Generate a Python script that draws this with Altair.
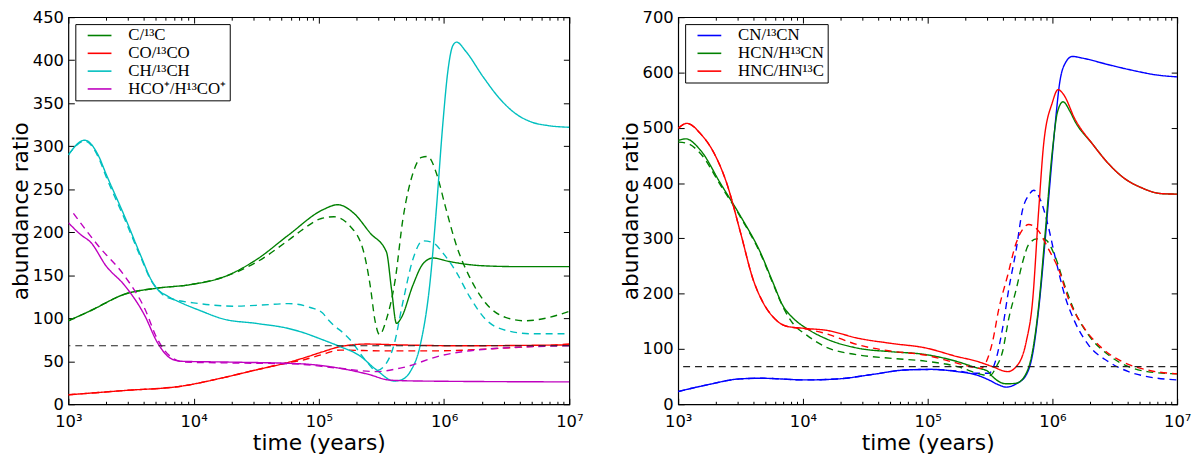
import altair as alt
import numpy as np
import pandas as pd

# x values are log10(time / years)
# ---- left panel ----
C_LOGT = [3.00, 3.18, 3.45, 3.71, 3.97, 4.24, 4.50, 4.76, 5.03, 5.15, 5.28, 5.41, 5.54,
          5.58, 5.62, 5.66, 5.75, 5.83, 5.91, 6.04, 6.31, 6.60, 7.00]
C_VAL = [97, 109, 128, 135, 139, 148, 168, 197, 226, 232, 222, 199, 177,
         134, 94, 101, 138, 163, 170, 166, 161, 160, 160]
C_D_LOGT = [3.00, 3.18, 3.45, 3.71, 3.97, 4.24, 4.50, 4.76, 4.86, 5.02, 5.12, 5.25, 5.36,
            5.41, 5.45, 5.485, 5.54, 5.61, 5.67, 5.75, 5.82, 5.87, 5.94, 6.01, 6.10,
            6.20, 6.33, 6.49, 6.65, 6.81, 7.00]
C_D_VAL = [97, 109, 128, 135, 139, 148, 165, 191, 202, 216, 218, 207, 176,
           138, 96, 81, 99, 145, 214, 268, 287, 288, 268, 230, 184,
           149, 118, 101, 97, 100, 108]

CO_LOGT = [3.00, 3.45, 3.90, 4.24, 4.50, 4.74, 4.86, 5.03, 5.17, 5.38, 5.65, 6.10, 7.00]
CO_VAL = [11, 16, 21, 31, 40, 48, 53, 61, 67, 70, 69, 68, 69]
CO_D_LOGT = [3.00, 3.45, 3.90, 4.24, 4.50, 4.74, 4.86, 5.03, 5.17, 5.52, 5.91, 6.44, 7.00]
CO_D_VAL = [11, 16, 21, 31, 40, 48, 51, 58, 63, 62, 62, 65, 70]

CH_LOGT = [3.00, 3.13, 3.24, 3.30, 3.45, 3.58, 3.66, 3.71, 3.79, 3.90, 4.05, 4.24, 4.50,
           4.76, 4.86, 5.03, 5.17, 5.32, 5.46, 5.60, 5.65, 5.73, 5.81, 5.89, 5.94, 5.99,
           6.03, 6.07, 6.10, 6.175, 6.31, 6.44, 6.57, 6.70, 6.83, 7.00]
CH_VAL = [290, 307, 289, 268, 218, 172, 145, 134, 126, 118, 109, 99, 94,
          88, 84, 75, 67, 57, 40, 27, 28, 38, 69, 145, 230, 326,
          387, 417, 421, 410, 381, 356, 338, 328, 324, 322]
CH_D_LOGT = [3.00, 3.13, 3.24, 3.30, 3.45, 3.58, 3.66, 3.71, 3.79, 4.05, 4.32, 4.50, 4.76,
             4.92, 5.03, 5.07, 5.25, 5.38, 5.46, 5.52, 5.60, 5.67, 5.75, 5.83, 5.91, 5.99,
             6.10, 6.20, 6.33, 6.49, 6.70, 7.00]
CH_D_VAL = [290, 306, 287, 265, 215, 170, 144, 134, 124, 117, 114, 115, 117,
            113, 106, 99, 75, 50, 39, 44, 69, 118, 168, 190, 188, 176,
            153, 126, 99, 86, 82, 82]

HCO_LOGT = [3.00, 3.10, 3.18, 3.30, 3.45, 3.61, 3.71, 3.82, 3.90, 4.30, 4.86, 5.20, 5.39,
            5.57, 5.81, 7.00]
HCO_VAL = [211, 197, 188, 161, 138, 103, 72, 53, 50, 49, 47, 41, 35, 28, 27, 26]
HCO_D_LOGT = [3.04, 3.24, 3.45, 3.61, 3.71, 3.82, 3.93, 4.30, 4.79, 5.15, 5.46, 5.65, 5.99,
              6.33, 7.00]
HCO_D_VAL = [222, 184, 149, 111, 76, 55, 49, 48, 47, 42, 38, 42, 57, 64, 68]

# ---- right panel ----
CN_LOGT = [3.00, 3.23, 3.50, 3.66, 4.03, 4.29, 4.56, 4.82, 5.03, 5.24, 5.39, 5.49, 5.57,
           5.63, 5.71, 5.79, 5.84, 5.89, 5.94, 5.98, 6.02, 6.06, 6.09, 6.16, 6.24, 6.45,
           6.66, 6.82, 7.00]
CN_VAL = [23, 35, 46, 47, 44, 46, 54, 62, 63, 59, 53, 44, 35,
          31, 37, 53, 89, 172, 292, 399, 501, 584, 611, 629, 626, 614,
          603, 596, 592]
CN_D_LOGT = [3.00, 3.23, 3.50, 3.66, 4.03, 4.29, 4.56, 4.82, 5.03, 5.24, 5.39, 5.49, 5.55,
             5.60, 5.65, 5.71, 5.76, 5.81, 5.85, 5.905, 5.96, 6.02, 6.10, 6.18, 6.29, 6.45,
             6.61, 6.76, 7.00]
CN_D_VAL = [23, 35, 46, 47, 44, 46, 54, 62, 63, 60, 56, 56, 83,
            137, 208, 280, 351, 378, 387, 369, 328, 268, 196, 149, 107, 77,
            59, 50, 44]

HCN_LOGT = [3.00, 3.06, 3.18, 3.34, 3.50, 3.66, 3.76, 3.84, 3.92, 4.03, 4.18, 4.45, 4.71,
            4.98, 5.24, 5.39, 5.48, 5.52, 5.63, 5.71, 5.79, 5.84, 5.89, 5.94, 6.00, 6.04,
            6.085, 6.14, 6.18, 6.32, 6.45, 6.58, 6.71, 6.87, 7.00]
HCN_VAL = [477, 480, 459, 399, 340, 274, 220, 178, 156, 137, 119, 101, 95,
           90, 77, 66, 60, 50, 37, 38, 56, 95, 178, 304, 459, 528,
           547, 530, 512, 471, 435, 408, 392, 381, 380]
HCN_D_LOGT = [3.00, 3.07, 3.18, 3.34, 3.50, 3.66, 3.76, 3.84, 3.92, 4.03, 4.18, 4.45, 4.71,
              4.98, 5.24, 5.45, 5.50, 5.55, 5.60, 5.65, 5.71, 5.76, 5.81, 5.875, 5.94, 6.02,
              6.10, 6.18, 6.29, 6.45, 6.61, 6.76, 7.00]
HCN_D_VAL = [474, 472, 453, 396, 338, 272, 218, 176, 146, 125, 104, 89, 83,
             78, 68, 53, 52, 68, 95, 155, 208, 256, 289, 299, 298, 268,
             214, 167, 125, 89, 68, 59, 55]

HNC_LOGT = [3.00, 3.07, 3.18, 3.29, 3.39, 3.50, 3.60, 3.68, 3.76, 3.87, 4.03, 4.18, 4.45,
            4.71, 4.98, 5.24, 5.39, 5.52, 5.64, 5.71, 5.79, 5.84, 5.89, 5.93, 6.00, 6.045,
            6.09, 6.18, 6.32, 6.45, 6.58, 6.71, 6.87, 7.00]
HNC_VAL = [499, 508, 489, 453, 399, 310, 226, 184, 158, 141, 137, 134, 119,
           110, 102, 86, 78, 68, 59, 68, 113, 184, 351, 471, 546, 569,
           560, 516, 471, 435, 408, 392, 381, 380]
HNC_D_LOGT = [3.00, 3.07, 3.18, 3.29, 3.39, 3.50, 3.60, 3.68, 3.76, 3.87, 4.03, 4.18, 4.45,
              4.71, 4.98, 5.24, 5.43, 5.47, 5.52, 5.57, 5.64, 5.71, 5.76, 5.81, 5.89, 5.97,
              6.05, 6.13, 6.24, 6.40, 6.56, 6.76, 7.00]
HNC_D_VAL = [499, 508, 489, 453, 399, 310, 226, 184, 158, 141, 136, 128, 107,
             96, 89, 74, 65, 77, 113, 172, 232, 292, 316, 325, 313, 280,
             244, 190, 143, 101, 77, 62, 55]

REF_RATIO = 68

LEFT_NAMES = ["C/¹³C", "CO/¹³CO", "CH/¹³CH", "HCO⁺/H¹³CO⁺"]
LEFT_COLORS = ["#008000", "#FF0000", "#00BFBF", "#BF00BF"]
RIGHT_NAMES = ["CN/¹³CN", "HCN/H¹³CN", "HNC/HN¹³C"]
RIGHT_COLORS = ["#0000FF", "#008000", "#FF0000"]

X_MAJOR = [1e3, 1e4, 1e5, 1e6, 1e7]
X_MINOR = [k * 10.0 ** n for n in range(3, 7) for k in range(2, 10)]
X_LABELS = ["10³", "10⁴", "10⁵", "10⁶", "10⁷"]

LABEL_EXPR = "''"
for v, lab in zip(reversed(X_MAJOR), reversed(X_LABELS)):
    LABEL_EXPR = f"datum.value == {v:.0f} ? '{lab}' : ({LABEL_EXPR})"


def curve(species, model, logt, vals):
    return pd.DataFrame({
        "time": np.power(10.0, np.array(logt)),
        "ratio": vals,
        "species": species,
        "model": model,
    })


left_df = pd.concat([
    curve(LEFT_NAMES[0], "solid", C_LOGT, C_VAL),
    curve(LEFT_NAMES[0], "dashed", C_D_LOGT, C_D_VAL),
    curve(LEFT_NAMES[1], "solid", CO_LOGT, CO_VAL),
    curve(LEFT_NAMES[1], "dashed", CO_D_LOGT, CO_D_VAL),
    curve(LEFT_NAMES[2], "solid", CH_LOGT, CH_VAL),
    curve(LEFT_NAMES[2], "dashed", CH_D_LOGT, CH_D_VAL),
    curve(LEFT_NAMES[3], "solid", HCO_LOGT, HCO_VAL),
    curve(LEFT_NAMES[3], "dashed", HCO_D_LOGT, HCO_D_VAL),
], ignore_index=True)

right_df = pd.concat([
    curve(RIGHT_NAMES[0], "solid", CN_LOGT, CN_VAL),
    curve(RIGHT_NAMES[0], "dashed", CN_D_LOGT, CN_D_VAL),
    curve(RIGHT_NAMES[1], "solid", HCN_LOGT, HCN_VAL),
    curve(RIGHT_NAMES[1], "dashed", HCN_D_LOGT, HCN_D_VAL),
    curve(RIGHT_NAMES[2], "solid", HNC_LOGT, HNC_VAL),
    curve(RIGHT_NAMES[2], "dashed", HNC_D_LOGT, HNC_D_VAL),
], ignore_index=True)


def tick_axis(orient, values, size):
    # inward ticks: an unlabeled axis pulled inside the frame by its own tick length
    return alt.Axis(orient=orient, values=values, tickSize=size, offset=-size,
                    labels=False, domain=False, grid=False, title=None,
                    tickColor="black", tickWidth=1)


def panel(df, names, colors, y_max, y_step, width):
    xs = alt.Scale(type="log", domain=[1e3, 1e7], nice=False)
    ys = alt.Scale(domain=[0, y_max], nice=False, zero=True)
    y_vals = list(range(0, y_max + 1, y_step))

    lines = alt.Chart(df).mark_line(strokeWidth=1.4, clip=True, interpolate="monotone").encode(
        x=alt.X("time:Q", scale=xs, axis=alt.Axis(
            orient="bottom", values=X_MAJOR, labelExpr=LABEL_EXPR, tickSize=0,
            labelFlush=False, domain=False, labelPadding=9, labelFontSize=16.5,
            titleFontSize=22, titlePadding=3, title="time (years)")),
        y=alt.Y("ratio:Q", scale=ys, axis=alt.Axis(
            orient="left", values=y_vals, tickSize=0, domain=False, labelPadding=5,
            labelFontSize=16.5, titleFontSize=22, titlePadding=0,
            title="abundance ratio")),
        color=alt.Color("species:N", scale=alt.Scale(domain=names, range=colors),
                        legend=alt.Legend(
                            title=None, orient="top-left", offset=7, padding=3,
                            fillColor="white", strokeColor="black",
                            symbolType="M-1.6,0H1.6", symbolSize=225,
                            symbolStrokeWidth=1.6, symbolOffset=13,
                            labelFont="Liberation Serif", labelFontSize=17,
                            labelColor="black", labelOffset=20.5, rowPadding=0,
                            cornerRadius=0)),
        strokeDash=alt.StrokeDash("model:N", scale=alt.Scale(
            domain=["solid", "dashed"], range=[[1, 0], [7, 5]]), legend=None),
    )

    ref = alt.Chart(pd.DataFrame({"ratio": [REF_RATIO]})).mark_rule(
        color="#222222", strokeDash=[7, 5], strokeWidth=1.2
    ).encode(y=alt.Y("ratio:Q", scale=ys, axis=None))

    ghost = alt.Chart(df).mark_line(opacity=0)
    ticks_a = ghost.encode(
        x=alt.X("time:Q", scale=xs, axis=tick_axis("bottom", X_MAJOR, 6)),
        y=alt.Y("ratio:Q", scale=ys, axis=tick_axis("left", y_vals, 6)))
    ticks_b = ghost.encode(
        x=alt.X("time:Q", scale=xs, axis=tick_axis("top", X_MAJOR, 6)),
        y=alt.Y("ratio:Q", scale=ys, axis=tick_axis("right", y_vals, 6)))
    ticks_c = ghost.encode(
        x=alt.X("time:Q", scale=xs, axis=tick_axis("bottom", X_MINOR, 3)),
        y=alt.Y("ratio:Q", scale=ys, axis=None))
    ticks_d = ghost.encode(
        x=alt.X("time:Q", scale=xs, axis=tick_axis("top", X_MINOR, 3)),
        y=alt.Y("ratio:Q", scale=ys, axis=None))

    return (
        alt.layer(lines, ref, ticks_a, ticks_b, ticks_c, ticks_d)
        .resolve_axis(x="independent", y="independent")
        .properties(width=width, height=391)
    )


left = panel(left_df, LEFT_NAMES, LEFT_COLORS, 450, 50, 506)
right = panel(right_df, RIGHT_NAMES, RIGHT_COLORS, 700, 100, 504)

chart = (
    alt.hconcat(left, right, spacing=34)
    .resolve_scale(color="independent", strokeDash="independent")
    .properties(padding={"left": 0, "top": -2, "right": 0, "bottom": 0})
    .configure_view(stroke="black", strokeWidth=1.2)
    .configure_axis(grid=False, labelFont="DejaVu Sans", titleFont="DejaVu Sans",
                    labelColor="black", titleColor="black", titleFontWeight="normal")
)

chart.save("out.html", embed_options={"renderer": "svg", "actions": False})
